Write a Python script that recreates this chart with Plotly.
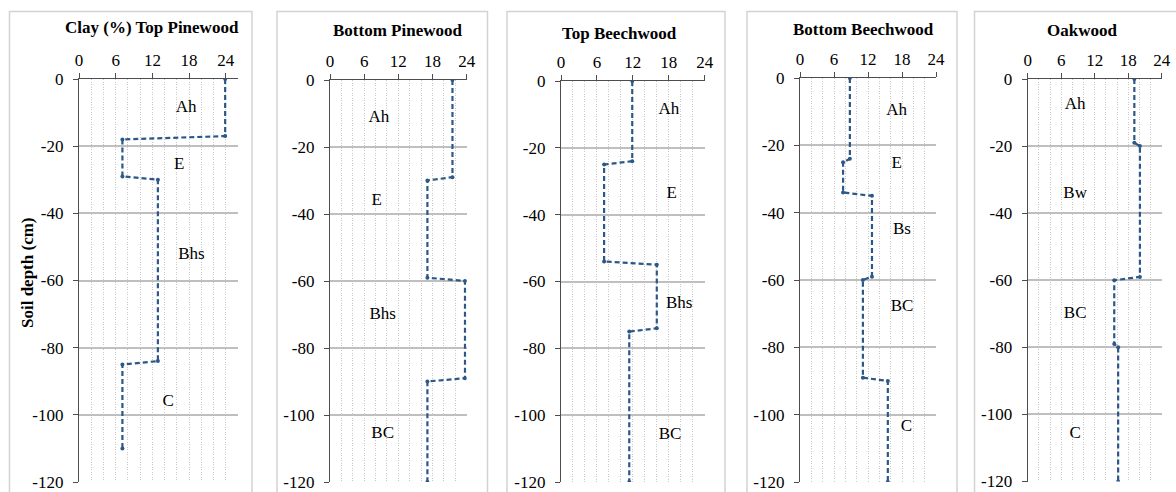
import plotly.graph_objects as go

# Clay content (%) against soil depth (cm) for five forest profiles
titles = ["Clay (%) Top Pinewood", "Bottom Pinewood", "Top Beechwood",
          "Bottom Beechwood", "Oakwood"]

top_pine_clay = [23.9, 23.9, 7.1, 7.1, 12.9, 12.9, 7.1, 7.1]
top_pine_depth = [0, -17, -18, -29, -30, -84, -85, -110]

bottom_pine_clay = [21.5, 21.5, 17.1, 17.1, 23.7, 23.7, 17.1, 17.1]
bottom_pine_depth = [0, -29, -30, -59, -60, -89, -90, -120]

top_beech_clay = [11.9, 11.9, 7.2, 7.2, 16.0, 16.0, 11.4, 11.4]
top_beech_depth = [0, -24, -25, -54, -55, -74, -75, -120]

bottom_beech_clay = [8.8, 8.8, 7.6, 7.6, 12.7, 12.7, 11.1, 11.1, 15.5, 15.5]
bottom_beech_depth = [0, -24, -25, -34, -35, -59, -60, -89, -90, -120]

oak_clay = [19.1, 19.1, 20.1, 20.1, 15.5, 15.5, 16.2, 16.2]
oak_depth = [0, -19, -20, -59, -60, -79, -80, -120]

# Soil horizon labels: text, clay position, depth position
top_pine_hz = (["Ah", "E", "Bhs", "C"], [17.5, 16.4, 18.4, 14.6], [-8.7, -25.6, -52.4, -96])
bottom_pine_hz = (["Ah", "E", "Bhs", "BC"], [8.6, 8.2, 9.25, 9.25], [-11.4, -35.9, -70.2, -105.6])
top_beech_hz = (["Ah", "E", "Bhs", "BC"], [18.0, 18.5, 19.75, 18.2], [-8.7, -33.6, -66.6, -106])
bottom_beech_hz = (["Ah", "E", "Bs", "BC", "C"], [17.05, 17.05, 18.0, 18.0, 18.8],
                   [-9.6, -25.4, -45, -68, -103.7])
oak_hz = (["Ah", "Bw", "BC", "C"], [8.5, 8.5, 8.5, 8.5], [-7.8, -34.1, -70, -105.8])

x_tick_vals = [0, 6, 12, 18, 24]
x_tick_text = ["0", "6", "12", "18", "24"]
y_tick_vals = [0, -20, -40, -60, -80, -100, -120]
y_tick_text = ["0", "-20", "-40", "-60", "-80", "-100", "-120"]
x_max = [26, 24, 24, 24, 24]

series = [
    (top_pine_clay, top_pine_depth, top_pine_hz),
    (bottom_pine_clay, bottom_pine_depth, bottom_pine_hz),
    (top_beech_clay, top_beech_depth, top_beech_hz),
    (bottom_beech_clay, bottom_beech_depth, bottom_beech_hz),
    (oak_clay, oak_depth, oak_hz),
]

W, H = 1176, 492
# plot-area pixel boxes (left, right, top, bottom) for each panel
plot_px = [(79, 238, 79, 482), (330, 466.7, 80, 482), (561, 704.7, 81, 482),
           (800, 936, 78, 482), (1027.7, 1161.7, 79, 481.5)]
# outer frame (left, right) for each panel
frame_px = [(9.5, 252), (277, 487.5), (507, 725), (747, 957), (974.5, 1185)]
title_px = [(152, 28), (397, 31), (619.5, 34), (863, 29), (1082, 31)]

SERIF = "Liberation Serif"
LINE_COLOR = "#2b5887"
FONT_COLOR = "#000000"
AXIS_COLOR = "#4d4d4d"

fig = go.Figure()
layout = dict(
    width=W, height=H,
    margin=dict(l=0, r=0, t=0, b=0, autoexpand=False),
    paper_bgcolor="white", plot_bgcolor="white",
    showlegend=False,
    font=dict(family=SERIF, size=17, color=FONT_COLOR),
)
shapes = []
annotations = []

for i, (clay, depth, hz) in enumerate(series):
    n = "" if i == 0 else str(i + 1)
    xa, ya = "x" + n, "y" + n
    fig.add_trace(go.Scatter(
        x=clay, y=depth, xaxis=xa, yaxis=ya, mode="lines+markers",
        line=dict(color=LINE_COLOR, width=2.2, dash="5px,3px"),
        marker=dict(color=LINE_COLOR, size=4),
        hoverinfo="x+y",
    ))
    names, hx, hy = hz
    fig.add_trace(go.Scatter(
        x=hx, y=hy, xaxis=xa, yaxis=ya, mode="text", text=names,
        textfont=dict(family=SERIF, size=17, color=FONT_COLOR),
        hoverinfo="skip",
    ))

    l, r, t, b = plot_px[i]
    layout["xaxis" + n] = dict(
        domain=[l / W, r / W], anchor=ya, side="top",
        range=[0, x_max[i]], tickmode="array",
        tickvals=x_tick_vals, ticktext=x_tick_text,
        ticks="outside", ticklen=5, tickwidth=1.3, tickcolor=AXIS_COLOR,
        showline=True, linecolor=AXIS_COLOR, linewidth=1.3,
        showgrid=True, gridcolor="#c8c8c8", griddash="1px,1.5px", gridwidth=1,
        minor=dict(dtick=2, tick0=0, showgrid=True, gridcolor="#c8c8c8",
                   griddash="1px,1.5px", gridwidth=1),
        zeroline=False, fixedrange=True, layer="above traces",
        tickfont=dict(family=SERIF, size=17, color=FONT_COLOR),
    )
    layout["yaxis" + n] = dict(
        domain=[1 - b / H, 1 - t / H], anchor=xa,
        range=[-120, 0], tickmode="array",
        tickvals=y_tick_vals, ticktext=y_tick_text,
        ticks="outside", ticklen=5, tickwidth=1.3, tickcolor=AXIS_COLOR,
        showline=True, linecolor=AXIS_COLOR, linewidth=1.3,
        showgrid=True, gridcolor="#bfbfbf", gridwidth=1.5,
        zeroline=False, fixedrange=True, ticklabelstandoff=6,
        tickfont=dict(family=SERIF, size=17, color=FONT_COLOR),
    )

    fl, fr = frame_px[i]
    shapes.append(dict(
        type="rect", xref="paper", yref="paper",
        x0=fl / W, x1=fr / W, y0=-0.05, y1=1 - 11.5 / H,
        line=dict(color="#d3d3d3", width=1.5), layer="below",
    ))
    tx, ty = title_px[i]
    annotations.append(dict(
        text="<b>" + titles[i] + "</b>", xref="paper", yref="paper",
        x=tx / W, y=1 - ty / H, xanchor="center", yanchor="middle",
        showarrow=False, font=dict(family=SERIF, size=17, color=FONT_COLOR),
    ))

annotations.append(dict(
    text="<b>Soil depth (cm)</b>", xref="paper", yref="paper",
    x=27 / W, y=1 - 273 / H, xanchor="center", yanchor="middle",
    textangle=-90, showarrow=False,
    font=dict(family=SERIF, size=17, color=FONT_COLOR),
))

layout["shapes"] = shapes
layout["annotations"] = annotations
fig.update_layout(**layout)
fig.write_html("out.html")
